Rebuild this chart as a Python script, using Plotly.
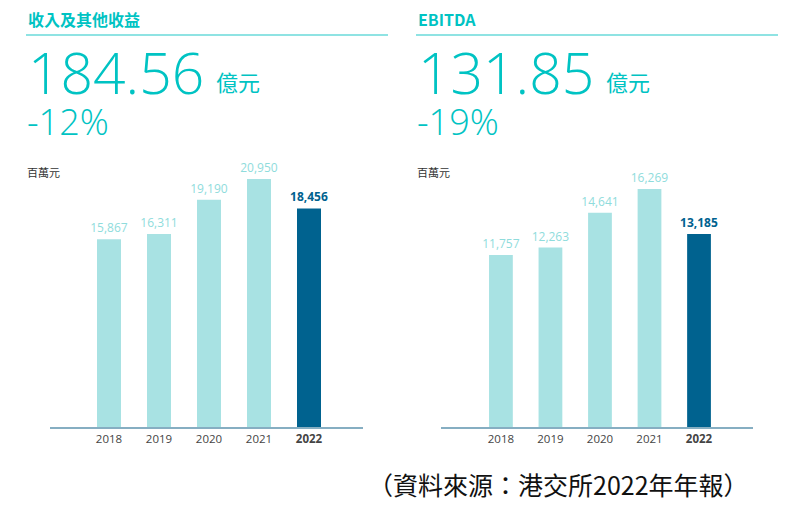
import plotly.graph_objects as go

# page has an 8px body margin, so the figure is drawn 8px in from the corner
OFF = 8
W, H = 792 - OFF, 516 - OFF

years = ["2018", "2019", "2020", "2021", "2022"]
year_labels = ["2018", "2019", "2020", "2021", "<b>2022</b>"]
revenue = [15867, 16311, 19190, 20950, 18456]
ebitda = [11757, 12263, 14641, 16269, 13185]

panel_titles = ["收入及其他收益", "EBITDA"]
headline = ["184.56", "131.85"]
change = ["-12%", "-19%"]
unit_big = "億元"
unit_small = "百萬元"
source_note = "（資料來源：港交所2022年年報）"

TEAL = "#00c3c3"
LIGHT = "#a8e2e3"
DARK = "#00628f"
LABEL_LIGHT = "#8fdcdc"


def fx(x):
    return (x - OFF) / W


def fy(y):
    return 1 - (y - OFF) / H


def bar_trace(vals, xa, ya):
    colors = [LIGHT] * (len(vals) - 1) + [DARK]
    txt = [f"{v:,}" for v in vals[:-1]] + [f"<b>{vals[-1]:,}</b>"]
    tcol = [LABEL_LIGHT] * (len(vals) - 1) + [DARK]
    return go.Bar(x=years, y=vals, xaxis=xa, yaxis=ya, width=0.48,
                  marker=dict(color=colors, line_width=0),
                  text=txt, textposition="outside", cliponaxis=False,
                  constraintext="none",
                  textfont=dict(color=tcol, size=12, family="Open Sans"),
                  hoverinfo="skip", showlegend=False)


fig = go.Figure()
fig.add_trace(bar_trace(revenue, "x", "y"))
fig.add_trace(bar_trace(ebitda, "x2", "y2"))

xcommon = dict(type="category", showgrid=False, zeroline=False, showline=True,
               linecolor="#86aec2", linewidth=1.5, ticks="",
               tickvals=years, ticktext=year_labels,
               tickfont=dict(size=11.5, color="#444", family="Open Sans"))
ycommon = dict(showgrid=False, zeroline=False, showticklabels=False,
               domain=[fy(427), fy(170)])

fig.update_layout(
    width=W, height=H, margin=dict(l=0, r=0, t=0, b=0),
    paper_bgcolor="white", plot_bgcolor="white",
    font=dict(family="Open Sans, Noto Sans CJK TC"),
    xaxis=dict(xcommon, domain=[fx(50), fx(363)], range=[-1.18, 5.08]),
    yaxis=dict(ycommon, range=[0, 21706]),
    xaxis2=dict(xcommon, domain=[fx(441), fx(753)], anchor="y2", range=[-1.21, 5.09]),
    yaxis2=dict(ycommon, anchor="x2", range=[0, 17567]),
)

anns = []
shapes = []
for i, x0 in enumerate([27, 417]):
    x1 = x0 + 361
    anns.append(dict(text=f"<b>{panel_titles[i]}</b>", x=fx(x0 - 1), y=fy(19),
                     font=dict(size=16, color=TEAL, family="Noto Sans CJK TC")))
    shapes.append(dict(type="line", xref="paper", yref="paper",
                       x0=fx(x0 - 1), x1=fx(x1), y0=fy(35), y1=fy(35),
                       line=dict(color="#8fe3e3", width=2)))
    anns.append(dict(text=headline[i], x=fx(x0 - 1), y=fy(72),
                     font=dict(size=57, color=TEAL, family="Open Sans", weight=300)))
    anns.append(dict(text=unit_big, x=fx(x0 + 187), y=fy(81),
                     font=dict(size=22, color=TEAL, family="Noto Sans CJK TC")))
    anns.append(dict(text=change[i], x=fx(x0 - 2), y=fy(121),
                     font=dict(size=36, color=TEAL, family="Open Sans", weight=300)))
    anns.append(dict(text=unit_small, x=fx(x0 - 2), y=fy(172),
                     font=dict(size=11, color="#333", family="Noto Sans CJK TC")))

anns.append(dict(text=source_note, x=fx(366), y=fy(484),
                 font=dict(size=25, color="#111", family="Noto Sans CJK TC")))

for a in anns:
    a.update(xref="paper", yref="paper", xanchor="left", yanchor="middle", showarrow=False)

fig.update_layout(annotations=anns, shapes=shapes)

fig.write_html("out.html")
